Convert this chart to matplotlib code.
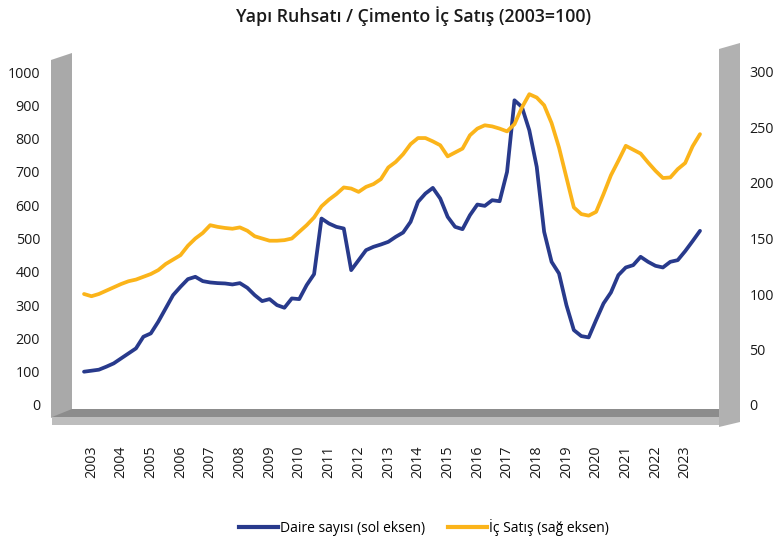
#!/usr/bin/env python3
"""Yapi ruhsati (daire sayisi) vs cimento ic satis, quarterly, 2003=100."""

import numpy as np
import matplotlib
matplotlib.use("Agg")
import matplotlib.pyplot as plt
from matplotlib.patches import Polygon
from matplotlib.lines import Line2D

W, H = 774, 542

years = [str(y) for y in range(2003, 2024)]

# quarterly, 2003Q1 .. 2023Q4 (left axis)
daire_sayisi = [
    100, 103, 106, 115, 125, 140, 155, 170, 205, 215, 250, 290,
    330, 355, 378, 385, 372, 368, 366, 365, 362, 366, 352, 330,
    312, 318, 300, 292, 320, 318, 360, 393, 560, 545, 535, 530,
    405, 435, 465, 475, 482, 490, 505, 518, 550, 610, 635, 652,
    620, 565, 535, 528, 570, 602, 598, 615, 612, 700, 915, 895,
    825, 715, 520, 430, 395, 300, 225, 207, 203, 255, 305, 338,
    390, 413, 420, 445, 430, 418, 413, 430, 435, 462, 492, 523,
]

# quarterly, 2003Q1 .. 2023Q4 (right axis)
ic_satis = [
    100, 98, 100, 103, 106, 109, 111.5, 113, 115.5, 118, 121.5, 127,
    131, 135, 143.5, 150, 155, 162, 160.5, 159.5, 158.8, 160, 157, 152,
    150, 148, 148, 148.5, 150, 156, 162, 169, 179, 185, 190, 196,
    195, 192, 196.5, 199, 203.5, 214, 219, 226, 235, 240.5, 240.5, 237.5,
    234, 224, 227.5, 231, 243, 249, 252, 251, 249, 246.5, 253, 268,
    280, 277, 270, 254, 232, 205, 178, 172, 170.6, 174, 190, 207,
    220, 233.5, 230, 226.5, 218.5, 211, 204.5, 205, 212.5, 218, 233, 244,
]

BLUE = "#283a8c"
ORANGE = "#fbb41a"

plt.rcParams["font.family"] = ["Open Sans", "DejaVu Sans"]


def fx(x):
    return x / W


def fy(y):
    return 1 - y / H


def px_poly(points, color, z=0):
    return Polygon([(fx(x), fy(y)) for x, y in points], closed=True,
                   transform=fig.transFigure, facecolor=color,
                   edgecolor="none", zorder=z)


fig = plt.figure(figsize=(W / 100, H / 100), dpi=100)

# 3d-ish frame: left wall, floor, right post
fig.patches.append(px_poly([(51, 60), (72, 53), (72, 410), (51, 418)], "#a9a9a9"))
fig.patches.append(px_poly([(52, 417), (72, 409), (719, 409), (719, 417)], "#8c8c8c"))
fig.patches.append(px_poly([(52, 417), (719, 417), (719, 425), (52, 425)], "#bdbdbd"))
fig.patches.append(px_poly([(719, 49), (740, 43), (740, 422), (719, 427)], "#b1b1b1"))

left, right, top, bottom = 72, 719, 72, 405
ax = fig.add_axes([fx(left), fy(bottom), (right - left) / W, (bottom - top) / H])
ax.patch.set_alpha(0)
for s in ax.spines.values():
    s.set_visible(False)

x = np.arange(len(daire_sayisi))
ax.plot(x, daire_sayisi, color=BLUE, lw=2.7, solid_capstyle="round",
        solid_joinstyle="round", clip_on=False, zorder=3)
ax.set_ylim(0, 1000)
ax.set_yticks(range(0, 1001, 100))
ax.set_xlim(-1.62, 85.56)
ax.set_xticks(np.arange(1, len(daire_sayisi), 4))
ax.set_xticklabels(years, rotation=90, va="top", ha="center")
ax.tick_params(axis="y", length=0, pad=23, labelsize=10.3, colors="#1a1a1a")
ax.tick_params(axis="x", length=0, pad=29, labelsize=10.3, colors="#1a1a1a")
for lab in ax.get_yticklabels():
    lab.set_ha("right")

ax2 = ax.twinx()
for s in ax2.spines.values():
    s.set_visible(False)
ax2.plot(x, ic_satis, color=ORANGE, lw=2.7, solid_capstyle="round",
         solid_joinstyle="round", clip_on=False, zorder=2)
ax2.set_ylim(0, 300)
ax2.set_yticks(range(0, 301, 50))
ax2.tick_params(axis="y", length=0, pad=22, labelsize=10.3, colors="#1a1a1a")

fig.text(fx(414), fy(16), "Yapı Ruhsatı / Çimento İç Satış (2003=100)",
         ha="center", va="center", fontsize=12.8, fontweight="semibold",
         color="#1a1a1a")

handles = [
    Line2D([], [], color=BLUE, lw=3),
    Line2D([], [], color=ORANGE, lw=3),
]
fig.legend(handles, ["Daire sayısı (sol eksen)", "İç Satış (sağ eksen)"],
           loc="center", bbox_to_anchor=(fx(424), fy(527)), ncol=2,
           frameon=False, fontsize=10, handlelength=2.8, handletextpad=0.15,
           columnspacing=1.7)

fig.savefig("out.png", dpi=100)
